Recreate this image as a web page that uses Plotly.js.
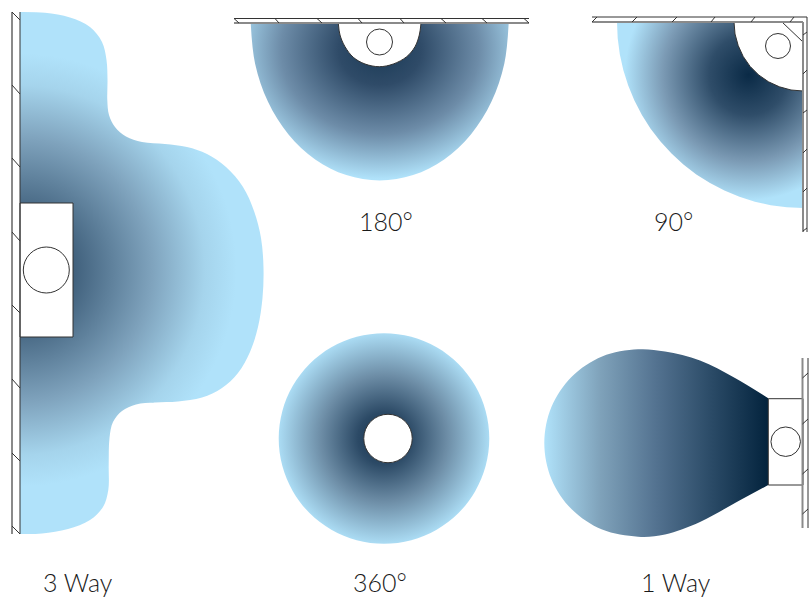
<!DOCTYPE html>
<html>
<head>
<meta charset="utf-8">
<script src="https://cdn.plot.ly/plotly-3.0.1.min.js"></script>
<style>html,body{margin:0;padding:0;background:#fff}#chart{width:811px;height:597px}</style>
</head>
<body>
<div id="chart"></div>
<script>
// Outlines (pixel-like data units)
var threeWayX = [20,45,70,90,102,106.5,107.5,107.3,109,115,126,142,165,187,207,226,243,254,261,263.5,262.5,258,250,238,222,202,178,155,136,122,113,109.5,108.7,108.3,103,90,68,42,20];
var threeWayY = [12,12.8,17.5,27,42,60,80,100,115,127,136.5,142,144,147,154,167,187,211,238,268,298,327,352,373,388,397.5,401.5,402.5,404.5,411,422,438,465,490,507,520,529,533.5,534];
var threeWayFocusX = [-244,284];
var threeWayFocusY = [6,534];

var halfX = [250.7,255.1,268,288.5,315.2,346.3,379.7,413.1,444.2,470.9,491.4,504.3,508.7];
var halfY = [23,63.8,101.8,134.4,159.4,175.1,180.5,175.1,159.4,134.4,101.8,63.8,23];
var halfFocusX = [215,545];
var halfFocusY = [-90,190];

var quarterX = [617,617.7,619.8,623.3,628.2,634.4,641.9,650.6,660.5,671.5,683.4,696.3,710,724.4,739.4,754.9,770.7,786.8,803,803,617];
var quarterY = [22,38.2,54.3,70.1,85.6,100.6,115,128.7,141.6,153.5,164.5,174.4,183.1,190.6,196.8,201.7,205.2,207.3,208,22,22];
var quarterFocusX = [620,880];
var quarterFocusY = [-58,202];

var fullX = [489.3,485.7,475.2,458.5,436.65,411.3,384,356.7,331.35,309.5,292.8,282.3,278.7,282.3,292.8,309.5,331.35,356.7,384,411.3,436.65,458.5,475.2,485.7,489.3];
var fullY = [438.5,465.8,491.15,513,529.7,540.2,543.8,540.2,529.7,513,491.15,465.8,438.5,411.2,385.85,364,347.3,336.8,333.2,336.8,347.3,364,385.85,411.2,438.5];

var oneWayX = [768.3,735,700,665,638,602.1,571.7,551.4,544.3,551.4,571.7,602.1,638,665,700,735,768.3];
var oneWayY = [398.3,378,360.5,351.5,349.3,356.4,376.7,407.1,443,478.9,509.3,529.6,536.7,534.5,522,503,485];

// Fixtures
var lampHalfX = [338.3,340,345,353.3,365,379.3,393.3,406.7,415,419.3,421];
var lampHalfY = [23.3,35,46.7,57.3,64,66.7,64,56.7,46.7,35,23.3];
var lampQuarterX = [734,735,738.2,743.2,750.1,758.6,768.5,779.4,791,803,803,734];
var lampQuarterY = [22,34,45.6,56.5,66.4,74.9,81.8,86.8,90,91,22,22];
var lampCutX = [782,803];
var lampCutY = [22,42];
var boxThreeX = [20,73,73,20,20];
var boxThreeY = [203,203,337,337,203];
var boxOneX = [803,768.3,768.3,803,803];
var boxOneY = [398.7,398.7,485,485,398.7];
var bulbX = [46.3,379.5,778,388,785.7];
var bulbY = [270,42,46,438.5,441.7];
var bulbD = [46,26,25,48.5,29.5];

// Walls: dark thin lines and hatches, then grey thick lines
var wallDarkX = [20,20,null,12,20,null,12,20,null,12,20,null,12,20,null,12,20,null,12,20,null,12,20,null,12,20,null,
  234,529,null,234,239,null,275,279,null,317,322,null,358,362,null,400,404,null,441,446,null,482,487,null,524,529,null,
  592,807,null,807,807,null,592,597,null,632,637,null,672,677,null,711,715,null,751,755,null,790,794,null,
  803,807,null,803,807,null,803,807,null,803,807,null,803,807,null,803,807,null,
  808,808,null,802.5,808,null,802.5,808,null,802.5,808,null,802.5,808];
var wallDarkY = [12,534,null,12,20,null,85,94,null,158,167,null,232,241,null,305,313,null,379,388,null,453,461,null,526,534,null,
  18.5,18.5,null,18.5,23,null,18.5,23,null,18.5,23,null,18.5,23,null,18.5,23,null,18.5,23,null,18.5,23,null,18.5,23,null,
  17,17,null,17,232,null,22,17,null,22,17,null,22,17,null,22,17,null,22,17,null,22,17,null,
  35,32,null,74,70,null,113,110,null,153,149,null,192,188,null,231,228,null,
  358,528,null,378,373,null,424,419,null,474,469,null,514,509];
var wallGreyX = [12,12,null,234,529,null,592,803,null,803,803,null,802.5,802.5];
var wallGreyY = [12,534,null,23,23,null,22,22,null,22,232,null,358,528];

// Labels
var labelText = ['3 Way','180°','90°','360°','1 Way'];
var labelX = [78,386,673,380,676];
var labelY = [582,221,221,582,582];

// Gradients
var lightBlue = '#b0e2fa';
var scaleThreeWay = [[0,'#0f2f4a'],[0.2,'#40607c'],[0.5,'#7fa3bd'],[0.7,'#a5d4ec'],[0.82,lightBlue],[1,lightBlue]];
var scaleHalf = [[0,'#1a3a56'],[0.25,'#2f4b68'],[0.6,'#6d8ca8'],[0.92,lightBlue],[1,lightBlue]];
var scaleQuarter = [[0,'#0a2a46'],[0.3,'#2f4d69'],[0.65,'#7b9ab4'],[0.94,lightBlue],[1,lightBlue]];
var scaleFull = [[0,'#12304b'],[0.25,'#2c4a66'],[0.6,'#6d8da6'],[1,'#abdcf4']];
var scaleOne = [[0,lightBlue],[0.25,'#7fa2ba'],[0.5,'#537290'],[0.75,'#2a4a66'],[1,'#03233d']];

function fillTrace(xs, ys, gradient, shape, fx, fy) {
  return {
    x: fx ? xs.concat([null], fx) : xs,
    y: fy ? ys.concat([null], fy) : ys,
    mode: 'lines', fill: 'toself', fillcolor: lightBlue,
    fillgradient: gradient,
    line: {width: 0, shape: shape, smoothing: 1, simplify: false},
    hoverinfo: 'skip', showlegend: false
  };
}
function whiteFill(xs, ys, shape) {
  return {x: xs, y: ys, mode: 'lines', fill: 'toself', fillcolor: '#fff',
    line: {color: '#333', width: 1, shape: shape, simplify: false}, hoverinfo: 'skip', showlegend: false};
}
function lineTrace(xs, ys, color, width) {
  return {x: xs, y: ys, mode: 'lines', line: {color: color, width: width}, hoverinfo: 'skip', showlegend: false};
}

var data = [
  fillTrace(threeWayX, threeWayY, {type:'radial', colorscale: scaleThreeWay}, 'spline', threeWayFocusX, threeWayFocusY),
  fillTrace(halfX, halfY, {type:'radial', colorscale: scaleHalf}, 'spline', halfFocusX, halfFocusY),
  fillTrace(quarterX, quarterY, {type:'radial', colorscale: scaleQuarter}, 'linear', quarterFocusX, quarterFocusY),
  fillTrace(fullX, fullY, {type:'radial', colorscale: scaleFull}, 'spline'),
  fillTrace(oneWayX, oneWayY, {type:'horizontal', colorscale: scaleOne}, 'spline'),
  whiteFill(lampHalfX, lampHalfY, 'spline'),
  whiteFill(lampQuarterX, lampQuarterY, 'linear'),
  whiteFill(boxThreeX, boxThreeY, 'linear'),
  whiteFill(boxOneX, boxOneY, 'linear'),
  lineTrace(lampCutX, lampCutY, '#333', 1),
  lineTrace(wallGreyX, wallGreyY, '#8a8a8a', 2),
  lineTrace(wallDarkX, wallDarkY, '#333', 1),
  {x: bulbX, y: bulbY, mode: 'markers', marker: {color: '#fff', opacity: 1, size: bulbD, line: {color: '#333', width: 1}}, hoverinfo: 'skip', showlegend: false}
];

var annotations = labelText.map(function (t, i) {
  return {x: labelX[i], y: labelY[i], xref: 'x', yref: 'y', text: t, showarrow: false,
    font: {family: 'Lato, sans-serif', size: 25, weight: 300, color: '#1a1a1a'}, xanchor: 'center', yanchor: 'middle'};
});

Plotly.newPlot('chart', data, {
  width: 811, height: 597,
  margin: {l: 0, r: 0, t: 0, b: 0},
  paper_bgcolor: '#fff', plot_bgcolor: '#fff',
  showlegend: false,
  xaxis: {range: [0, 811], visible: false, fixedrange: true},
  yaxis: {range: [597, 0], visible: false, fixedrange: true},
  annotations: annotations
}, {displayModeBar: false, staticPlot: true});
</script>
</body>
</html>
